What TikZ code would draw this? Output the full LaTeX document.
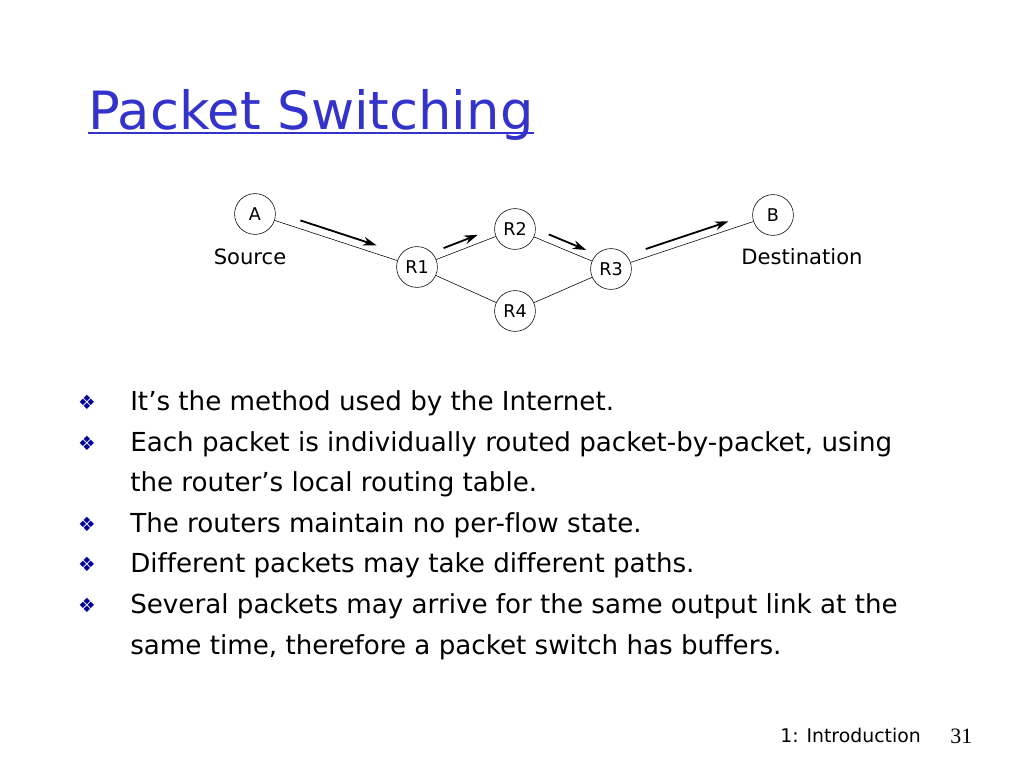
\documentclass[tikz,border=0pt]{standalone}
\usepackage{fontspec}
\setmainfont[Ligatures={NoCommon}]{DejaVu Sans}
\newfontfamily\numfont{Liberation Serif}
\usetikzlibrary{arrows.meta,calc}
\definecolor{titleblue}{HTML}{3333CC}
\definecolor{bulletblue}{HTML}{000099}

\begin{document}
\begin{tikzpicture}[x=0.025cm,y=-0.025cm,
  router/.style={circle,draw,thin,minimum size=1.02cm,inner sep=0pt,font=\fontsize{12.5}{14}\selectfont},
  link/.style={thin},
  flow/.style={-{Stealth[length=3.4mm,width=2.2mm]},line width=1.3pt},
  tag/.style={inner sep=0pt,font=\fontsize{15}{18}\selectfont},
  item/.style={anchor=base west,inner sep=0pt,font=\fontsize{18.6}{22}\selectfont},
  bul/.style={text=bulletblue,inner sep=0pt,font=\fontsize{14}{16}\selectfont}]
  \useasboundingbox (0,0) rectangle (1024,768);
  % title
  \node[anchor=base west,inner sep=0pt,text=titleblue,font=\fontsize{37.5}{44}\selectfont] (title) at (88,130) {Packet Switching};
  \draw[titleblue,line width=1.4pt] ($(title.base west)+(0,3)$) -- ($(title.base east)+(0,3)$);
  % network
  \node[router] (A) at (255,214) {A};
  \node[router] (R1) at (417,267) {R1};
  \node[router] (R2) at (515,229) {R2};
  \node[router] (R3) at (611,269) {R3};
  \node[router] (R4) at (515,311) {R4};
  \node[router] (B) at (773,215) {B};
  \node[tag] (src) at (250,257) {Source};
  \node[tag] (dst) at (802,257) {Destination};
  \draw[link] (A) -- (R1) (R1) -- (R2) (R2) -- (R3) (R3) -- (B)
    (R1) -- (R4) (R4) -- (R3);
  % packets on their way
  \draw[flow] ($(A)!0.265!(R1)!0.2cm!90:(R1)$) -- ($(A)!0.735!(R1)!0.2cm!90:(R1)$);
  \draw[flow] ($(R1)!0.3!(R2)!0.2cm!90:(R2)$) -- ($(R1)!0.65!(R2)!0.2cm!90:(R2)$);
  \draw[flow] ($(R2)!0.32!(R3)!0.2cm!90:(R3)$) -- ($(R2)!0.71!(R3)!0.2cm!90:(R3)$);
  \draw[flow] ($(R3)!0.23!(B)!0.2cm!90:(B)$) -- ($(R3)!0.74!(B)!0.2cm!90:(B)$);
  % bullets
  \foreach \n/\y in {1/410,2/451,3/532,4/572,5/613}
    \node[bul] (b\n) at (87,\y-7.5) {❖};
  \node[item] (l1) at (130,410) {It’s the method used by the Internet.};
  \node[item] (l2) at (130,451) {Each packet is individually routed packet-by-packet, using};
  \node[item] (l3) at (130,491) {the router’s local routing table.};
  \node[item] (l4) at (130,532) {The routers maintain no per-flow state.};
  \node[item] (l5) at (130,572) {Different packets may take different paths.};
  \node[item] (l6) at (130,613) {Several packets may arrive for the same output link at the};
  \node[item] (l7) at (130,654) {same time, therefore a packet switch has buffers.};
  % footer
  \node[anchor=base west,inner sep=0pt,font=\fontsize{13.4}{16}\selectfont] (foot) at (780,742) {1: Introduction};
  \node[anchor=base west,inner sep=0pt,font=\fontsize{15.6}{18}\numfont] (pnum) at (950,743) {31};
\end{tikzpicture}
\end{document}
